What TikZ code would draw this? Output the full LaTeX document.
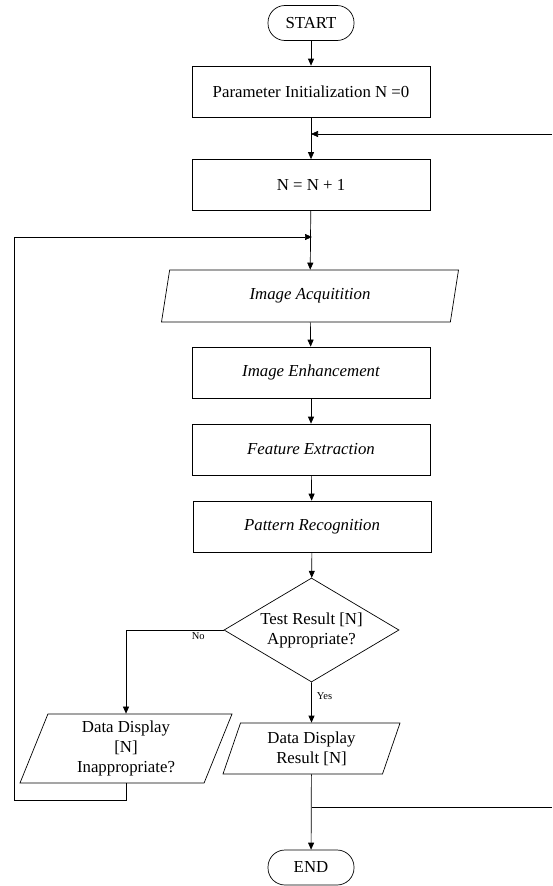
\documentclass[tikz,border=0pt]{standalone}
\usepackage{fontspec}
\setmainfont{Liberation Serif}
\usetikzlibrary{arrows.meta, shapes.geometric}

\begin{document}
\begin{tikzpicture}[x=1pt, y=-1pt, line width=0.7pt,
    >={Triangle[length=7pt,width=6pt]},
    txt/.style={font=\fontsize{16.8}{20}\selectfont, align=center},
    term/.style={txt, draw, rounded corners=17pt, minimum width=86pt, minimum height=35pt, inner sep=0pt},
    procbox/.style={txt, draw, minimum width=238pt, minimum height=51pt, inner sep=0pt},
    iobox/.style={txt, draw, trapezium, trapezium left angle=64, trapezium right angle=116,
        trapezium stretches body, inner sep=1pt},
    decide/.style={txt, draw, diamond, aspect=1.68, minimum width=175pt, minimum height=104pt, inner sep=0pt},
    lbl/.style={font=\fontsize{10.5}{12}\selectfont, inner sep=2pt}]
    \useasboundingbox (0,0) rectangle (552,886);

    \node[term] (start) at (311,23) {START};
    \node[procbox] (param) at (311,91.5) {Parameter Initialization N =0};
    \node[procbox] (count) at (311,185) {N = N + 1};
    \node[iobox, minimum width=297pt, minimum height=52pt] (acq) at (310,296) {\itshape Image Acquitition};
    \node[procbox] (enh) at (311,372.5) {\itshape Image Enhancement};
    \node[procbox] (feat) at (311,449.5) {\itshape Feature Extraction};
    \node[procbox] (pat) at (312,526.5) {\itshape Pattern Recognition};
    \node[decide] (test) at (311.5,630) {Test Result [N]\\Appropriate?};
    \node[iobox, minimum width=212pt, minimum height=69pt] (fail) at (126,748.5) {Data Display\\{}[N]\\Inappropriate?};
    \node[iobox, minimum width=177pt, minimum height=51pt] (result) at (311.5,748.5) {Data Display\\Result [N]};
    \node[term] (end) at (311,867.5) {END};

    \coordinate (fbin) at (552,134);
    \coordinate (fbout) at (552,807);
    \coordinate (loopbot) at (14,800);
    \coordinate (loopin) at (312,237);

    \draw[->] (start) -- (param);
    \draw[->] (param) -- (count);
    \draw[->] (fbin) -- (fbin -| param.south);
    \draw[->] (count) -- (acq);
    \draw[->] (acq) -- (enh);
    \draw[->] (enh) -- (feat);
    \draw[->] (feat) -- (pat);
    \draw[->] (pat) -- (test);
    \draw[->] (test.west) -| (fail.north) node[lbl, pos=0.13, below] {No};
    \draw[->] (test.south) -- (result.north) node[lbl, pos=0.35, right, xshift=3pt] {Yes};
    \draw[->] (fail.south) |- (loopbot) |- (loopin);
    \draw[->] (result) -- (end);
    \draw (result.south |- fbout) -- (fbout);
\end{tikzpicture}
\end{document}
